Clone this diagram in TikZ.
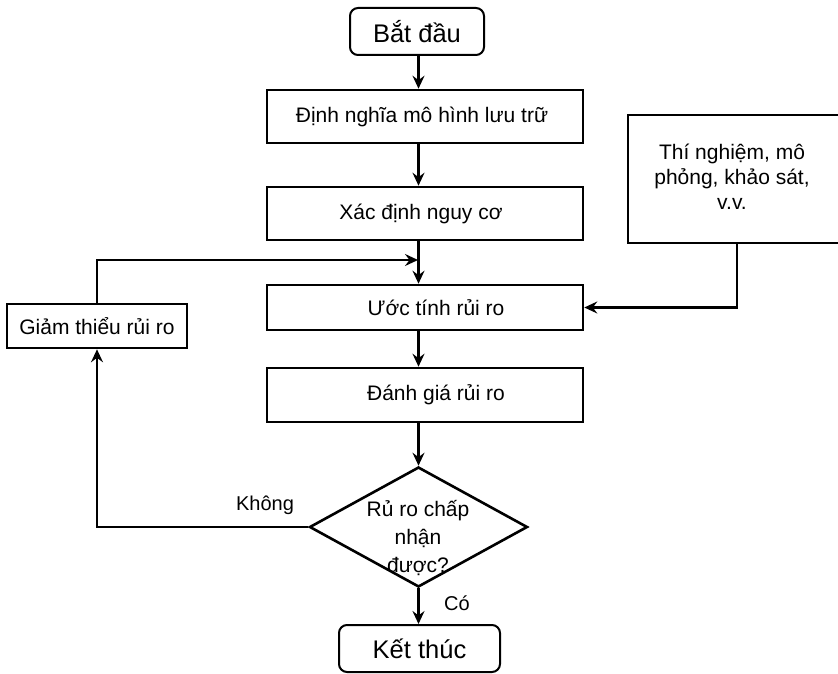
\documentclass[tikz,border=0pt]{standalone}
\usepackage{fontspec}
\setmainfont{Liberation Sans}
\usetikzlibrary{shapes.geometric,arrows.meta}
\begin{document}
\begin{tikzpicture}[x=1pt,y=-1pt,
  every node/.style={font=\fontsize{21}{26}\selectfont},
  box/.style={draw,line width=2.6pt,minimum width=316pt,inner sep=0pt},
  term/.style={draw,line width=2pt,rounded corners=8pt,inner sep=0pt,font=\fontsize{25.5}{30}\selectfont},
  arr/.style={line width=2.6pt,-{Stealth[length=13pt,width=12pt,inset=4.5pt]}},
  lbl/.style={font=\fontsize{20}{24}\selectfont}]
\useasboundingbox (0,0) rectangle (838,674);
\node[term,minimum width=134pt,minimum height=47pt] (start) at (417,31.5) {Bắt đầu};
\node[box,minimum height=53pt] (def) at (425,116.5) {\hspace*{-6pt}Định nghĩa mô hình lưu trữ};
\node[box,minimum height=53pt] (haz) at (425,213.5) {\hspace*{-8pt}Xác định nguy cơ};
\node[box,minimum height=45pt] (est) at (425,307.5) {\hspace*{22pt}Ước tính rủi ro};
\node[box,minimum height=54pt] (eva) at (425,395) {\hspace*{22pt}Đánh giá rủi ro};
\node[box,minimum width=180pt,minimum height=44pt] (mit) at (97,326) {Giảm thiểu rủi ro};
\node[box,minimum width=222pt,minimum height=128pt,align=center] (exp) at (739,179) {\hspace*{-14pt}\begin{tabular}{@{}c@{}}Thí nghiệm, mô\\[-1pt] phỏng, khảo sát,\\[-1pt] v.v.\end{tabular}};
\node[draw,diamond,line width=2.6pt,inner sep=0pt,minimum width=218pt,minimum height=120pt] (dec) at (418.5,527) {};
\node[align=center,inner sep=0pt,font=\fontsize{21}{28}\selectfont] (dectxt) at (418,538.5) {Rủ ro chấp\\nhận\\được?};
\node[term,minimum width=161pt,minimum height=47pt] (end) at (419.5,648.5) {Kết thúc};
\coordinate (join) at (418,260);
\draw[arr] (start.south -| dec.north) -- (def.north -| dec.north);
\draw[arr] (def.south -| dec.north) -- (haz.north -| dec.north);
\draw[arr] (haz.south -| dec.north) -- (est.north -| dec.north);
\draw[arr] (mit.north) |- (join);
\draw[arr] (exp.south -| 737,0) |- (est.east);
\draw[arr] (est.south -| dec.north) -- (eva.north -| dec.north);
\draw[arr] (eva.south -| dec.north) -- (dec.north);
\draw[arr] (dec.south) -- (end.north -| dec.south);
\draw[arr] (dec.west) -| (mit.south);
\node[lbl] (no) at (265,505) {Không};
\node[lbl] (yes) at (457,603) {Có};
\end{tikzpicture}
\end{document}
